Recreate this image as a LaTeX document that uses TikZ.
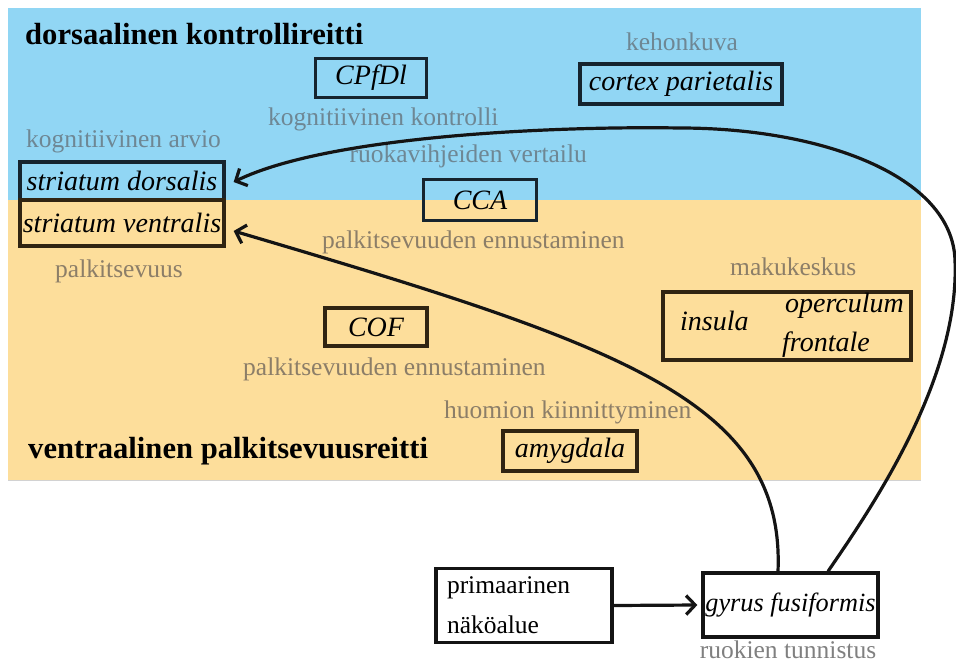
\documentclass[tikz,border=0pt]{standalone}
\usepackage{fontspec}
\setmainfont{Liberation Serif}
\usetikzlibrary{arrows.meta,calc}
\definecolor{skyb}{RGB}{145,214,244}
\definecolor{sand}{RGB}{253,222,155}
\definecolor{greyb}{RGB}{110,135,148}
\definecolor{greyo}{RGB}{140,126,104}
\definecolor{greyw}{RGB}{128,128,128}
\definecolor{inkb}{RGB}{22,36,46}
\definecolor{inko}{RGB}{48,36,18}
\definecolor{inkw}{RGB}{20,20,20}
\newcommand\myboxfont{\fontsize{28}{32}\selectfont\itshape}
\newcommand\mylabfont{\fontsize{25.5}{30}\selectfont}
\newcommand\mytitlefont{\fontsize{30.6}{34}\selectfont\bfseries}
\begin{document}
\begin{tikzpicture}[x=1pt,y=-1pt,
  box/.style={draw=inkw, line width=3.3pt, inner sep=0pt, font=\myboxfont},
  lab/.style={font=\mylabfont, inner sep=0pt},
  ttl/.style={font=\mytitlefont, inner sep=0pt, text=black},
  conn/.style={line width=3.2pt, draw=inkw, -{Straight Barb[length=9pt,width=19pt]}}]
\useasboundingbox (0,0) rectangle (956,662);
% backgrounds
\fill[skyb] (8,8) rectangle (921,199.5);
\fill[sand] (8,199.5) rectangle (921,479.5);
\draw[gray!35, line width=1.5pt] (8,480.5) -- (921,480.5);
% titles
\node[ttl, anchor=base west] (t1) at (25,44) {dorsaalinen kontrollireitti};
\node[ttl, anchor=base west] (t2) at (28,458) {ventraalinen palkitsevuusreitti};
% dorsal region
\node[box, draw=inkb, minimum width=111, minimum height=39] (cpfdl) at (371,78) {CPfDl};
\node[lab, text=greyb, anchor=base west] (lkk) at (268,125) {kognitiivinen kontrolli};
\node[lab, text=greyb, anchor=base] (lkeh) at (682,50) {kehonkuva};
\node[box, draw=inkb, minimum width=202, minimum height=40] (cortex) at (681,84) {cortex parietalis};
\node[lab, text=greyb, anchor=base west] (lka) at (26,147) {kognitiivinen arvio};
\node[lab, text=greyb, anchor=base east] (lrv) at (587,162) {ruokavihjeiden vertailu};
\node[box, draw=inkb, minimum width=204, minimum height=38] (sd) at (122,181) {striatum dorsalis};
\node[box, draw=inko, minimum width=204, minimum height=46] (sv) at (122,223) {striatum ventralis};
\node[box, draw=inkb, minimum width=113, minimum height=41] (cca) at (480,200) {CCA};
% ventral region
\node[lab, text=greyo, anchor=base west] (lpe1) at (322,248) {palkitsevuuden ennustaminen};
\node[lab, text=greyo, anchor=base west] (lpalk) at (55,277) {palkitsevuus};
\node[lab, text=greyo, anchor=base west] (lmaku) at (730,275) {makukeskus};
\node[box, draw=inko, minimum width=248, minimum height=68] (ins) at (787,326) {};
\node[font=\myboxfont, inner sep=0pt, anchor=base west] (tins) at (680,330) {insula};
\node[font=\myboxfont, inner sep=0pt, anchor=base west] (top) at (785,312) {operculum};
\node[font=\myboxfont, inner sep=0pt, anchor=base west] (tfr) at (782,351) {frontale};
\node[box, draw=inko, minimum width=102, minimum height=38] (cof) at (376,327) {COF};
\node[lab, text=greyo, anchor=base west] (lpe2) at (243,375) {palkitsevuuden ennustaminen};
\node[lab, text=greyo, anchor=base west] (lhuo) at (444,418) {huomion kiinnittyminen};
\node[box, draw=inko, minimum width=134, minimum height=40] (amyg) at (570,451) {amygdala};
% bottom
\node[box, font=\fontsize{25.5}{40}\selectfont, minimum width=176, minimum height=74, align=left, text width=154] (prim) at (524,605.5) {primaarinen\\näköalue};
\node[box, font=\fontsize{26.3}{30}\selectfont\itshape, minimum width=175, minimum height=64] (gyr) at (790.5,605) {gyrus fusiformis};
\node[lab, text=greyw, anchor=base] (lruok) at (788,658) {ruokien tunnistus};
% connectors
\draw[conn] (prim.east) -- ($(gyr.west)+(-4,0)$);
\draw[conn] ([xshift=-12.5pt]gyr.north) .. controls (785,400) and (620,345) .. ($(sv.east)+(8,8)$);
\draw[conn] ([xshift=37.5pt]gyr.north) .. controls (870,510) and (960,380) .. (955,260)
  .. controls (952,175) and (820,128) .. (680,128)
  .. controls (560,126) and (330,135) .. ($(sd.east)+(8,1)$);
\end{tikzpicture}
\end{document}
